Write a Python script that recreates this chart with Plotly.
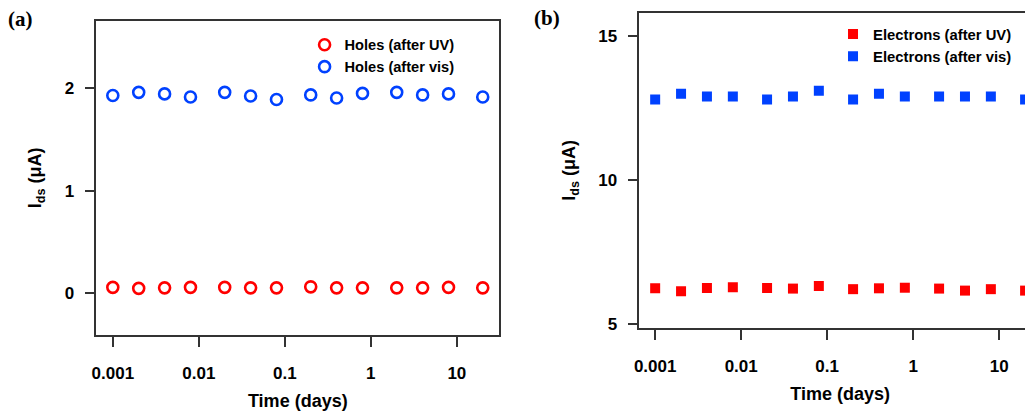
import plotly.graph_objects as go

# ---- data ----
time_days = [0.001, 0.002, 0.004, 0.008, 0.02, 0.04, 0.08, 0.2, 0.4, 0.8, 2, 4, 8, 20]
holes_uv = [0.06, 0.05, 0.055, 0.06, 0.06, 0.055, 0.055, 0.065, 0.055, 0.055, 0.055, 0.055, 0.06, 0.055]
holes_vis = [1.93, 1.96, 1.945, 1.915, 1.96, 1.925, 1.89, 1.935, 1.905, 1.95, 1.96, 1.935, 1.945, 1.915]
electrons_uv = [6.23, 6.13, 6.24, 6.27, 6.24, 6.22, 6.31, 6.20, 6.23, 6.25, 6.22, 6.15, 6.20, 6.15]
electrons_vis = [12.8, 13.0, 12.9, 12.9, 12.8, 12.9, 13.1, 12.8, 13.0, 12.9, 12.9, 12.9, 12.9, 12.8]

x_tickvals = [0.001, 0.01, 0.1, 1, 10]
x_ticktext = ["0.001", "0.01", "0.1", "1", "10"]
a_yticks = [0, 1, 2]
b_yticks = [5, 10, 15]

RED = "#FF0000"
BLUE = "#0041FF"
FONT = "Liberation Sans, Arial, sans-serif"
W, H = 1033, 412
OFF = 8  # page body margin offset


def px_x(p):
    return (p - OFF) / W


def px_y(p):
    return 1 - (p - OFF) / H


fig = go.Figure()

fig.add_trace(go.Scatter(
    x=time_days, y=holes_uv, mode="markers", name="Holes (after UV)",
    marker=dict(symbol="circle-open", size=11, color=RED, line=dict(width=2.6, color=RED)),
    xaxis="x", yaxis="y", legend="legend"))
fig.add_trace(go.Scatter(
    x=time_days, y=holes_vis, mode="markers", name="Holes (after vis)",
    marker=dict(symbol="circle-open", size=11, color=BLUE, line=dict(width=2.6, color=BLUE)),
    xaxis="x", yaxis="y", legend="legend"))
fig.add_trace(go.Scatter(
    x=time_days, y=electrons_uv, mode="markers", name="Electrons (after UV)",
    marker=dict(symbol="square", size=10, color=RED),
    xaxis="x2", yaxis="y2", legend="legend2"))
fig.add_trace(go.Scatter(
    x=time_days, y=electrons_vis, mode="markers", name="Electrons (after vis)",
    marker=dict(symbol="square", size=10, color=BLUE),
    xaxis="x2", yaxis="y2", legend="legend2"))

tickfont = dict(family=FONT, size=17, color="black", weight="bold")
titlefont = dict(family=FONT, size=18, color="black", weight="bold")
line_color = "#333333"

common_x = dict(type="log", tickvals=x_tickvals, ticktext=x_ticktext, ticks="outside",
                ticklen=10, tickwidth=1.5, tickcolor=line_color, showline=True,
                linecolor=line_color, linewidth=1.5, showgrid=False, zeroline=False,
                tickfont=tickfont, ticklabelstandoff=12,
                title=dict(text="Time (days)", font=titlefont, standoff=12))
common_y = dict(ticks="outside", ticklen=10, tickwidth=1.5, tickcolor=line_color,
                showline=True, linecolor=line_color, linewidth=1.5, showgrid=False,
                zeroline=False, tickfont=tickfont, ticklabelstandoff=7,
                title=dict(text="I<sub>ds</sub> (μA)", font=titlefont, standoff=18))

fig.update_layout(
    width=W, height=H, margin=dict(l=0, r=0, t=0, b=0),
    paper_bgcolor="white", plot_bgcolor="white",
    xaxis=dict(common_x, domain=[px_x(91.7), px_x(496.7)], range=[-3.192, 1.494],
               anchor="y", mirror=True),
    yaxis=dict(common_y, domain=[px_y(340), px_y(20.7)], range=[-0.406, 2.66],
               tickvals=a_yticks, anchor="x", mirror=True),
    xaxis2=dict(common_x, domain=[px_x(637.3), 1.0], range=[-3.185, 1.486],
                anchor="y2", mirror=True),
    yaxis2=dict(common_y, domain=[px_y(332.7), px_y(13)], range=[4.85, 15.81],
                tickvals=b_yticks, anchor="x2", mirror=False),
    legend=dict(x=px_x(301), y=px_y(29), xanchor="left", yanchor="top",
                bgcolor="rgba(0,0,0,0)", tracegroupgap=0,
                font=dict(family=FONT, size=14.6, color="black", weight="bold")),
    legend2=dict(x=px_x(832), y=px_y(18), xanchor="left", yanchor="top",
                 bgcolor="rgba(0,0,0,0)", tracegroupgap=0,
                 font=dict(family=FONT, size=14.8, color="black", weight="bold")),
    annotations=[
        dict(text="(a)", x=px_x(1), y=px_y(19), xref="paper", yref="paper",
             xanchor="left", yanchor="middle", showarrow=False,
             font=dict(family="Liberation Serif, Times New Roman, serif", size=21, color="black", weight="bold")),
        dict(text="(b)", x=px_x(530), y=px_y(18), xref="paper", yref="paper",
             xanchor="left", yanchor="middle", showarrow=False,
             font=dict(family="Liberation Serif, Times New Roman, serif", size=21, color="black", weight="bold")),
    ],
)

fig.write_html("out.html")
